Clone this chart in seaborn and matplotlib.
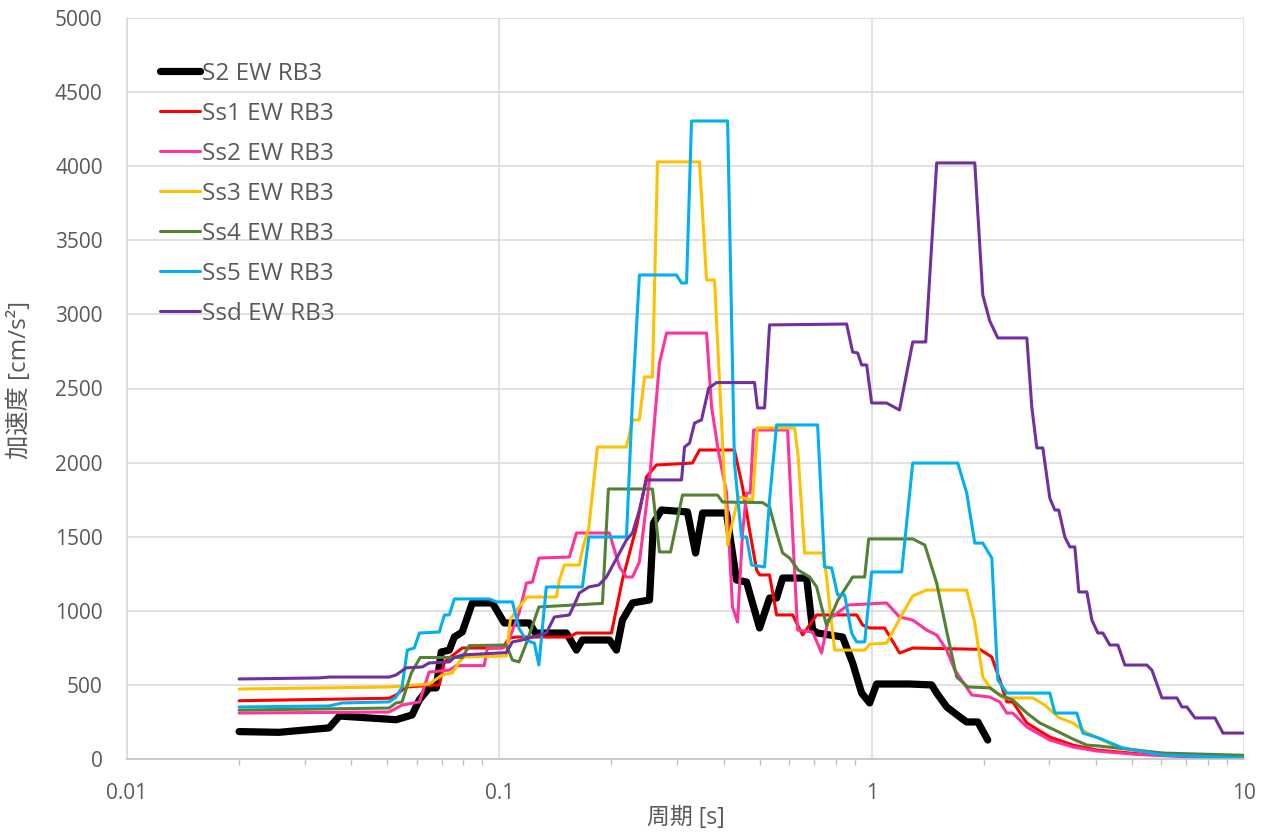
import numpy as np
import pandas as pd
import matplotlib
matplotlib.use("Agg")
import matplotlib.pyplot as plt
from matplotlib.ticker import FixedLocator, FixedFormatter, LogLocator, NullFormatter
import seaborn as sns

# ---- response spectra (period [s], acceleration [cm/s2]) ----
S2_T = [0.0200, 0.0256, 0.0349, 0.0372, 0.0528, 0.0583, 0.0610, 0.0648, 0.0677, 0.0698,
        0.0734, 0.0757, 0.0795, 0.0846, 0.0958, 0.1031, 0.1204, 0.1250, 0.1514, 0.1611,
        0.1671, 0.1976, 0.2063, 0.2141, 0.2278, 0.2531, 0.2594, 0.2726, 0.3201, 0.3365,
        0.3514, 0.4075, 0.4335, 0.4613, 0.5000, 0.5318, 0.5555, 0.5766, 0.6688, 0.6940,
        0.7158, 0.8356, 0.889, 0.9398, 0.9876, 1.031, 1.265, 1.449, 1.495, 1.591,
        1.725, 1.800, 1.928, 2.050]
S2_A = [185, 180, 210, 290, 265, 297, 400, 480, 480, 722,
        735, 823, 857, 1053, 1053, 918, 918, 850, 850, 735,
        803, 803, 735, 938, 1053, 1073, 1592, 1680, 1667, 1390,
        1660, 1660, 1208, 1194, 884, 1086, 1086, 1221, 1221, 870,
        850, 823, 648, 445, 378, 506, 506, 500, 445, 351,
        283, 250, 250, 128]

SS1_T = [0.0200, 0.0506, 0.0528, 0.0562, 0.0690, 0.0712, 0.0795, 0.1019, 0.1064, 0.1111,
         0.1542, 0.1611, 0.2000, 0.2141, 0.2335, 0.2484, 0.2642, 0.3302, 0.3448, 0.4280,
         0.4500, 0.4699, 0.4909, 0.5000, 0.5318, 0.5555, 0.6133, 0.6524, 0.7115, 0.9115,
         0.9459, 0.9876, 1.084, 1.189, 1.289, 1.951, 2.102, 2.208, 2.307, 2.393,
         2.611, 3.009, 3.470, 4.025, 5.200, 7.000, 10.0]
SS1_A = [393, 410, 432, 486, 500, 655, 749, 749, 816, 823,
         823, 850, 850, 1208, 1566, 1903, 1984, 1997, 2085, 2085,
         1835, 1545, 1275, 1242, 1242, 972, 972, 837, 972, 972,
         904, 884, 884, 715, 749, 740, 688, 533, 385, 385,
         243, 148, 94, 61, 35, 20, 10]

SS2_T = [0.0200, 0.0506, 0.0548, 0.0610, 0.0648, 0.0734, 0.0766, 0.0911, 0.0928, 0.1044,
         0.1130, 0.1182, 0.1227, 0.1277, 0.1542, 0.1611, 0.1976, 0.2102, 0.2195, 0.2278,
         0.2378, 0.2531, 0.2692, 0.2812, 0.3602, 0.3716, 0.3879, 0.4075, 0.4228, 0.4363,
         0.4500, 0.4613, 0.4720, 0.4818, 0.5946, 0.6133, 0.6325, 0.6940, 0.7337, 0.7640,
         0.8640, 1.097, 1.188, 1.289, 1.405, 1.495, 1.591, 1.672, 1.857, 2.076,
         2.208, 2.307, 2.393, 2.611, 3.009, 3.470, 4.025, 5.200, 7.000, 10.0]
SS2_A = [310, 317, 364, 385, 587, 600, 630, 630, 745, 756,
         985, 1187, 1194, 1356, 1363, 1525, 1525, 1296, 1228, 1228,
         1329, 1883, 2672, 2874, 2874, 2375, 2070, 1800, 1026, 924,
         1525, 1795, 1795, 2220, 2220, 1525, 870, 857, 715, 938,
         1039, 1053, 958, 938, 870, 837, 735, 600, 432, 418,
         385, 310, 310, 216, 128, 81, 54, 30, 15, 8]

SS3_T = [0.0200, 0.0506, 0.0648, 0.0703, 0.0747, 0.0780, 0.0805, 0.1044, 0.1070, 0.1111,
         0.1189, 0.1423, 0.1450, 0.1495, 0.1640, 0.1671, 0.1740, 0.1834, 0.2195, 0.2278,
         0.2378, 0.2454, 0.2578, 0.2659, 0.3448, 0.3602, 0.3784, 0.4103, 0.4228, 0.4390,
         0.4786, 0.4936, 0.6209, 0.6350, 0.6605, 0.7383, 0.7540, 0.7953, 0.9577, 0.9876,
         1.097, 1.188, 1.289, 1.405, 1.800, 1.892, 1.988, 2.076, 2.250, 2.710,
         2.918, 3.180, 3.470, 3.784, 4.556, 5.587, 6.855, 10.0]
SS3_A = [472, 486, 506, 567, 580, 655, 688, 695, 938, 1005,
         1093, 1093, 1208, 1309, 1309, 1410, 1566, 2105, 2105, 2288,
         2288, 2578, 2578, 4029, 4029, 3232, 3232, 1444, 1600, 1768,
         1748, 2234, 2234, 2038, 1390, 1390, 1255, 735, 735, 775,
         782, 945, 1100, 1140, 1140, 918, 553, 486, 412, 412,
         364, 280, 243, 178, 81, 47, 27, 14]

SS4_T = [0.0200, 0.0506, 0.0528, 0.0548, 0.0580, 0.0613, 0.0795, 0.0830, 0.1044, 0.1084,
         0.1130, 0.1182, 0.1277, 0.1892, 0.1963, 0.2578, 0.2692, 0.2883, 0.3104, 0.3855,
         0.3977, 0.5093, 0.5318, 0.5555, 0.5766, 0.6021, 0.6350, 0.6814, 0.7115, 0.7337,
         0.7569, 0.8120, 0.8890, 0.9577, 0.9817, 1.289, 1.389, 1.495, 1.591, 1.692,
         1.812, 2.076, 2.208, 2.393, 2.611, 2.829, 3.180, 3.470, 3.784, 4.070,
         6.057, 10.0]
SS4_A = [330, 344, 378, 385, 580, 685, 685, 765, 769, 668,
         655, 782, 1026, 1050, 1822, 1822, 1397, 1397, 1781, 1781,
         1734, 1730, 1700, 1525, 1390, 1356, 1275, 1228, 1161, 1026,
         900, 1073, 1228, 1228, 1485, 1485, 1444, 1187, 860, 553,
         486, 480, 432, 398, 310, 243, 182, 135, 94, 88,
         40, 25]

SS5_T = [0.0200, 0.0349, 0.0378, 0.0506, 0.0528, 0.0548, 0.0566, 0.0591, 0.0610, 0.0690,
         0.0712, 0.0734, 0.0757, 0.0940, 0.0983, 0.1084, 0.1130, 0.1182, 0.1242, 0.1277,
         0.1337, 0.1671, 0.1740, 0.2195, 0.2278, 0.2378, 0.2991, 0.3085, 0.3183, 0.3282,
         0.4103, 0.4280, 0.4472, 0.4613, 0.4757, 0.5156, 0.5318, 0.5555, 0.7158, 0.7475,
         0.7808, 0.8102, 0.8459, 0.8835, 0.9115, 0.9577, 1.000, 1.204, 1.289, 1.703,
         1.800, 1.892, 1.988, 2.102, 2.182, 2.307, 3.009, 3.104, 3.557, 3.692,
         4.070, 4.727, 6.057, 10.0]
SS5_A = [351, 358, 378, 385, 418, 486, 735, 749, 850, 857,
         972, 972, 1080, 1080, 1060, 1060, 880, 800, 782, 634,
         1161, 1161, 1498, 1498, 2422, 3266, 3266, 3212, 3212, 4305,
         4305, 1997, 1498, 1498, 1309, 1296, 1748, 2254, 2254, 1296,
         1289, 1107, 1107, 850, 790, 790, 1262, 1262, 1997, 1997,
         1795, 1457, 1457, 1356, 533, 445, 445, 310, 310, 175,
         142, 74, 27, 7]

SSD_T = [0.0200, 0.0328, 0.0349, 0.0506, 0.0528, 0.0562, 0.0621, 0.0648, 0.0734, 0.0757,
         0.0795, 0.1044, 0.1084, 0.1153, 0.1337, 0.1405, 0.1542, 0.1611, 0.1640, 0.1740,
         0.1850, 0.1939, 0.2102, 0.2195, 0.2278, 0.2378, 0.2484, 0.3085, 0.3144, 0.3243,
         0.3344, 0.3491, 0.3650, 0.3832, 0.4846, 0.4936, 0.5156, 0.5318, 0.8565, 0.8890,
         0.9170, 0.9398, 0.9697, 1.000, 1.097, 1.188, 1.289, 1.397, 1.495, 1.892,
         1.988, 2.076, 2.182, 2.611, 2.692, 2.777, 2.882, 3.009, 3.104, 3.180,
         3.302, 3.406, 3.513, 3.600, 3.784, 3.903, 4.050, 4.178, 4.362, 4.585,
         4.787, 5.484, 5.657, 6.020, 6.605, 6.812, 7.028, 7.384, 8.356, 8.780,
         10.0]
SSD_A = [540, 547, 553, 553, 567, 615, 621, 648, 655, 685,
         702, 718, 790, 803, 850, 958, 972, 1073, 1120, 1161,
         1174, 1228, 1390, 1478, 1525, 1680, 1883, 1883, 2105, 2132,
         2267, 2288, 2503, 2540, 2540, 2369, 2369, 2929, 2935, 2746,
         2740, 2659, 2659, 2402, 2402, 2355, 2814, 2814, 4022, 4022,
         3131, 2955, 2841, 2841, 2375, 2099, 2099, 1761, 1680, 1680,
         1498, 1431, 1431, 1127, 1127, 938, 850, 850, 769, 769,
         634, 634, 600, 412, 412, 351, 351, 277, 277, 175,
         175]

SERIES = ["S2 EW RB3", "Ss1 EW RB3", "Ss2 EW RB3", "Ss3 EW RB3",
          "Ss4 EW RB3", "Ss5 EW RB3", "Ssd EW RB3"]
PERIODS = [S2_T, SS1_T, SS2_T, SS3_T, SS4_T, SS5_T, SSD_T]
ACCELS = [S2_A, SS1_A, SS2_A, SS3_A, SS4_A, SS5_A, SSD_A]
COLORS = ["#000000", "#FF0000", "#FF3399", "#FFC000", "#548235", "#00B0F0", "#7030A0"]
WIDTHS = [5.2, 2.2, 2.2, 2.2, 2.2, 2.2, 2.2]

X_TICKS = [0.01, 0.1, 1, 10]
X_TICK_LABELS = ["0.01", "0.1", "1", "10"]
Y_TICKS = list(range(0, 5001, 500))

# ---- style ----
sns.set_theme(style="white")
plt.rcParams["font.family"] = ["Open Sans", "Noto Sans CJK JP", "DejaVu Sans"]
TEXT = "#595959"
GRID = "#D9D9D9"

fig = plt.figure(figsize=(12.71, 8.39), dpi=100)
ax = fig.add_axes([127 / 1271, 1 - 759 / 839, 1117 / 1271, 741 / 839])

for name, t, a, c, w in zip(SERIES, PERIODS, ACCELS, COLORS, WIDTHS):
    df = pd.DataFrame({"period": t, "acc": a})
    sns.lineplot(data=df, x="period", y="acc", ax=ax, color=c, linewidth=w,
                 label=name, estimator=None, sort=False,
                 solid_joinstyle="round", solid_capstyle="round")

ax.set_xscale("log")
ax.set_xlim(0.01, 10)
ax.set_ylim(0, 5000)

ax.xaxis.set_major_locator(FixedLocator(X_TICKS))
ax.xaxis.set_major_formatter(FixedFormatter(X_TICK_LABELS))
ax.xaxis.set_minor_locator(LogLocator(base=10, subs=np.arange(2, 10)))
ax.xaxis.set_minor_formatter(NullFormatter())
ax.yaxis.set_major_locator(FixedLocator(Y_TICKS))

ax.grid(True, which="major", color=GRID, linewidth=1.1)
ax.set_axisbelow(True)
for side in ["top", "right"]:
    ax.spines[side].set_visible(False)
for side in ["left", "bottom"]:
    ax.spines[side].set_color(GRID)
    ax.spines[side].set_linewidth(1.1)
ax.spines["bottom"].set_color("#BFBFBF")

ax.tick_params(axis="both", which="major", length=0, labelsize=15,
               labelcolor=TEXT, pad=17.5)
ax.tick_params(axis="x", which="minor", length=4, width=1, color="#BFBFBF",
               direction="out", bottom=True)

ax.set_xlabel("周期 [s]", fontsize=16.5, color=TEXT)
ax.set_ylabel("加速度 [cm/s²]", fontsize=17.5, color=TEXT)
ax.xaxis.set_label_coords(0.5, -0.064)
ax.yaxis.set_label_coords(-0.085, 0.512)

leg = ax.legend(loc="upper left", bbox_to_anchor=(0.0295, 0.941),
                frameon=False, fontsize=17.5, labelcolor=TEXT,
                handlelength=1.65, handletextpad=0.08, labelspacing=0.66,
                borderpad=0, borderaxespad=0)

fig.savefig("out.png", dpi=100)
